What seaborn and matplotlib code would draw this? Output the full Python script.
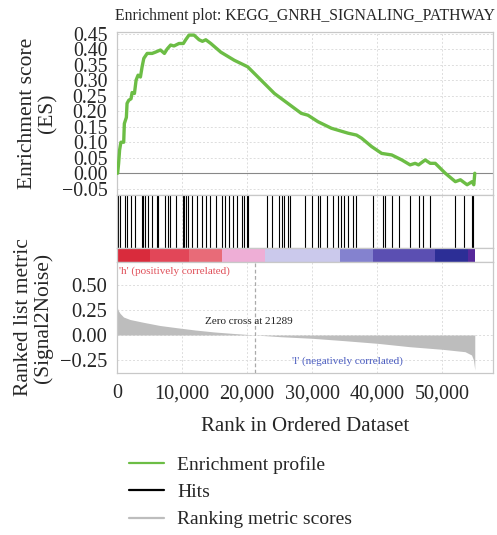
import numpy as np
import pandas as pd
import matplotlib
matplotlib.use("Agg")
import matplotlib.pyplot as plt
from matplotlib.lines import Line2D
import seaborn as sns

# ---------------- data ----------------
es_rank = [0, 100, 250, 400, 600, 1030, 1130, 1440, 1545, 1800, 2160, 2320, 2680, 2935,
           3240, 3600, 3860, 4120, 4635, 5400, 5900, 6680, 7290, 7700, 8240, 8760,
           9530, 10200, 10560, 11070, 11840, 12620, 13130, 13650, 14420, 15965, 18025,
           20085, 22145, 24200, 26265, 28325, 29350, 30900, 32960, 35535, 36820, 37600,
           39140, 40685, 42230, 43775, 45060, 45830, 46350, 47380, 48150, 48925, 50470,
           52015, 52790, 53820, 54590, 54850, 55000]
es_val = [0.0, 0.0, 0.032, 0.075, 0.10, 0.10, 0.16, 0.18, 0.225, 0.235, 0.24, 0.26, 0.257,
          0.30, 0.316, 0.31, 0.343, 0.37, 0.386, 0.386, 0.39, 0.397, 0.386, 0.40, 0.413,
          0.41, 0.418, 0.418, 0.43, 0.445, 0.445, 0.43, 0.425, 0.43, 0.418, 0.39, 0.364,
          0.343, 0.30, 0.257, 0.225, 0.193, 0.187, 0.166, 0.145, 0.129, 0.123, 0.113,
          0.086, 0.064, 0.059, 0.043, 0.027, 0.032, 0.027, 0.043, 0.032, 0.032, 0.0,
          -0.027, -0.021, -0.037, -0.027, -0.037, 0.0]

hit_ranks = [200, 460, 1230, 1490, 2100, 2770, 3790, 4050, 4310, 4820, 5330, 6100, 6360,
             7380, 7900, 8150, 9080, 10100, 10300, 10610, 10970, 11480, 12360, 13020,
             13690, 14300, 15230, 16100, 16610, 17280, 17890, 18400, 19270, 19580, 19950,
             20200, 23020, 23790, 24910, 25330, 25730, 26250, 26610, 28910, 30040, 30960,
             31220, 32340, 33260, 33940, 34450, 34960, 35480, 36340, 36710, 39420, 40870,
             41220, 42250, 43420, 45060, 46500, 47020, 48140, 51980, 53370, 54550, 54800]

metric_rank = [0, 150, 460, 1000, 2000, 4050, 6600, 9180, 12000, 15000, 18000, 21289,
               25100, 30000, 35000, 40000, 45000, 50000, 53500, 54500, 54800, 55000]
metric_val = [0.29, 0.25, 0.217, 0.18, 0.155, 0.127, 0.095, 0.073, 0.05, 0.03, 0.015, 0.0,
              -0.017, -0.033, -0.057, -0.083, -0.117, -0.143, -0.167, -0.2, -0.25, -0.35]

band_edges = [0, 5000, 11000, 16150, 22760, 34300, 39370, 48900, 54000, 55000]
band_colors = ["#d92b3c", "#e24658", "#e86b78", "#eeaed6", "#cbc9ec", "#8482cf",
               "#5b4fb2", "#2c2e96", "#56289a"]

zero_cross = 21289
title = "Enrichment plot: KEGG_GNRH_SIGNALING_PATHWAY"
es_ticks = [-0.05, 0.00, 0.05, 0.10, 0.15, 0.20, 0.25, 0.30, 0.35, 0.40, 0.45]
metric_ticks = [-0.25, 0.00, 0.25, 0.50]
x_ticks = [0, 10000, 20000, 30000, 40000, 50000]
x_ticklabels = ["0", "10,000", "20,000", "30,000", "40,000", "50,000"]

# ---------------- style ----------------
sns.set_theme(style="whitegrid")
plt.rcParams["font.family"] = ["Liberation Serif", "DejaVu Serif"]
plt.rcParams["axes.unicode_minus"] = True
GREEN = "#6cbd45"
GREY = "#bdbdbd"
SPINE = "#c8c8c8"
GRID = dict(color="#dddddd", linestyle=(0, (2, 2)), linewidth=0.7)

W, H = 497, 535
fig = plt.figure(figsize=(W / 100, H / 100), dpi=100)
L, R = 117 / W, 493 / W
def box(top_px, bot_px):
    return [L, 1 - bot_px / H, R - L, (bot_px - top_px) / H]

ax_es = fig.add_axes(box(32, 195))
ax_hit = fig.add_axes(box(195, 248))
ax_band = fig.add_axes(box(248, 262))
ax_m = fig.add_axes(box(262, 373))

XMAX = 57800
for ax in (ax_es, ax_hit, ax_band, ax_m):
    ax.set_xlim(0, XMAX)
    for s in ax.spines.values():
        s.set_color(SPINE)
        s.set_linewidth(0.9)
    ax.grid(False)

# ES panel
es_df = pd.DataFrame({"rank": es_rank, "es": es_val})
ax_es.axhline(0, color="#888888", lw=0.8, zorder=1)
sns.lineplot(data=es_df, x="rank", y="es", ax=ax_es, color=GREEN, lw=2.4, zorder=3)
ax_es.set_ylim(-0.07, 0.455)
ax_es.set_yticks(es_ticks)
ax_es.set_yticklabels([f"{t:.2f}".replace("-", "\u2212") for t in es_ticks])
ax_es.set_xticks(x_ticks)
ax_es.set_xticklabels([])
ax_es.grid(True, **GRID)
ax_es.set_xlabel("")
ax_es.set_ylabel("Enrichment score\n(ES)", fontsize=15.5, linespacing=1.1)
ax_es.tick_params(axis="y", labelsize=14.3, pad=7, length=0)
ax_es.tick_params(axis="x", length=0)
ax_es.set_title(title, fontsize=11.3, pad=9)

# hits panel
ax_hit.vlines(hit_ranks, 0, 1, color="black", lw=0.8)
ax_hit.set_ylim(0, 1)
ax_hit.set_xticks(x_ticks)
ax_hit.set_xticklabels([])
ax_hit.set_yticks([])
ax_hit.grid(True, axis="x", **GRID)
ax_hit.tick_params(length=0)

# colour band
for i, c in enumerate(band_colors):
    ax_band.axvspan(band_edges[i], band_edges[i + 1], color=c, lw=0)
ax_band.set_ylim(0, 1)
ax_band.set_xticks([])
ax_band.set_yticks([])

# ranked metric panel
ax_m.fill_between(metric_rank, metric_val, 0, color=GREY, lw=0, zorder=2)
ax_m.axvline(zero_cross, color="#aaaaaa", lw=0.9, linestyle=(0, (3, 2)), zorder=3)
ax_m.set_ylim(-0.38, 0.73)
ax_m.set_yticks(metric_ticks)
ax_m.set_yticklabels([f"{t:.2f}".replace("-", "\u2212") for t in metric_ticks])
ax_m.set_xticks(x_ticks)
ax_m.set_xticklabels(x_ticklabels)
ax_m.grid(True, **GRID)
ax_m.tick_params(axis="y", labelsize=14.8, length=0, pad=7)
ax_m.tick_params(axis="x", labelsize=14.5, length=0, pad=8)
ax_m.set_ylabel("Ranked list metric\n(Signal2Noise)", fontsize=15.5, linespacing=1.0)
ax_m.set_xlabel("Rank in Ordered Dataset", fontsize=15, labelpad=10)
ax_m.text(20300, 0.14, "Zero cross at " + str(zero_cross), fontsize=8, ha="center",
          va="center", color="#222222")
ax_m.text(300, 0.64, "'h' (positively correlated)", fontsize=8, ha="left", va="center",
          color="#e0505a")
ax_m.text(35500, -0.26, "'l' (negatively correlated)", fontsize=8, ha="center",
          va="center", color="#4a5cc0")

# place the two y labels (x = right edge of the rotated label block)
ax_es.yaxis.set_label_coords(-0.158, 0.5)
ax_m.yaxis.set_label_coords(-0.17, 0.5)

handles = [Line2D([], [], color=GREEN, lw=1.6), Line2D([], [], color="black", lw=1.6),
           Line2D([], [], color=GREY, lw=1.6)]
labels = ["Enrichment profile", "Hits", "Ranking metric scores"]
fig.legend(handles, labels, loc="upper left", bbox_to_anchor=(121 / W, 1 - 448 / H),
           frameon=False, fontsize=14, handlelength=1.8, handletextpad=0.7,
           labelspacing=0.5, borderaxespad=0)

fig.savefig("out.png", dpi=100)
